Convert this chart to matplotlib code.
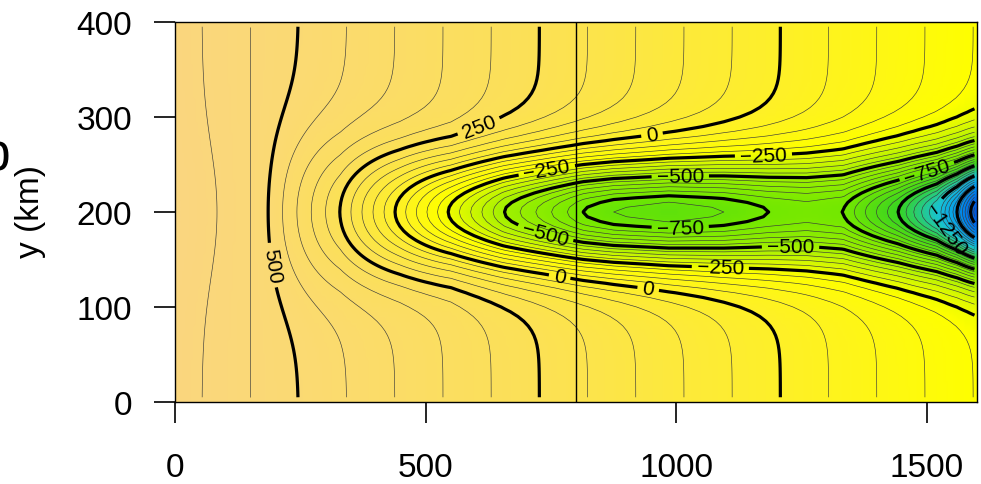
import numpy as np
import matplotlib
matplotlib.use("Agg")
import matplotlib.pyplot as plt
from matplotlib.colors import LinearSegmentedColormap, Normalize

plt.rcParams['font.family'] = ['Liberation Sans', 'DejaVu Sans']

# ---------------- data ----------------
# value along the jet axis (y = 200 km) at selected x positions (km)
x_nodes = [0, 84, 150, 186, 329, 439, 545, 657, 814, 875, 985, 1095,
           1184, 1260, 1333, 1443, 1520, 1560, 1587, 1600]
centre_vals = [650, 600, 550, 500, 250, 0, -250, -500, -750, -800, -830, -800,
               -750, -725, -750, -1000, -1250, -1500, -1750, -1850]
# e-folding half-width of the trough across y (km)
width_x = [0, 200, 330, 450, 550, 1600]
width_km = [65, 63, 52, 45, 41, 41]
# value at the southern / northern walls (linear in x)
edge_left, edge_right = 628, -204
jet_y = 200

x = np.arange(5, 1600, 5)
y = np.arange(5, 400, 5)
edge = edge_left + (edge_right - edge_left) * x / 1600.0
C = np.interp(x, x_nodes, centre_vals)
S = np.interp(x, width_x, width_km)
A = C - edge
Z = edge[None, :] + A[None, :] * np.exp(-((y[:, None] - jet_y) ** 2) / (2 * S[None, :] ** 2))
X, Y = np.meshgrid(x, y)

thick_levels = list(range(-1750, 501, 250))
thin_levels = [l for l in range(-1900, 701, 50) if l % 250 != 0]

label_pos = [(206, 145), (609, 286), (952, 280), (742, 243), (1174, 259),
             (739, 177), (1008, 238), (1008, 182), (1228, 163), (1088, 142),
             (768, 134), (944, 119), (1497, 249), (1547, 187)]

# ---------------- colours ----------------
anchors = [(-1850, (0, 80, 220)), (-1500, (0, 150, 240)), (-1250, (25, 195, 210)),
           (-1000, (55, 212, 35)), (-750, (115, 232, 0)), (-500, (160, 240, 0)),
           (-350, (208, 247, 0)), (-200, (255, 255, 0)), (0, (254, 240, 40)),
           (250, (252, 225, 85)), (500, (251, 218, 115)), (650, (250, 214, 128))]
vmin, vmax = anchors[0][0], anchors[-1][0]
cmap = LinearSegmentedColormap.from_list(
    "pal", [((v - vmin) / (vmax - vmin), tuple(c / 255 for c in col)) for v, col in anchors])
norm = Normalize(vmin, vmax)

# ---------------- figure ----------------
fig = plt.figure(figsize=(9.81, 4.85), dpi=100)
ax = fig.add_axes([175 / 981, 82 / 485, 802 / 981, 380 / 485])
ax.imshow(Z, extent=(0, 1600, 0, 400), origin='lower', cmap=cmap, norm=norm,
          aspect='auto', interpolation='bilinear')
ax.contour(X, Y, Z, levels=thin_levels, colors='#3a3a3a', linewidths=0.45,
           linestyles='solid')
cs = ax.contour(X, Y, Z, levels=thick_levels, colors='black', linewidths=2.3,
                linestyles='solid')


def fmt(v):
    return f"{v:.0f}".replace('-', '\u2212')


ax.clabel(cs, manual=label_pos, fmt=fmt, fontsize=15, inline=True, inline_spacing=5)
ax.axvline(800, color='black', lw=1)

ax.set_xlim(0, 1600)
ax.set_ylim(0, 400)
ax.set_xticks([0, 500, 1000, 1500])
ax.set_yticks([0, 100, 200, 300, 400])
ax.tick_params(axis='both', length=15, width=1.2, labelsize=24)
ax.tick_params(axis='y', pad=16)
ax.tick_params(axis='x', pad=21)
for sp in ax.spines.values():
    sp.set_linewidth(1.0)

fig.text(31 / 981, 1 - 211 / 485, 'y (km)', rotation=90, ha='center', va='center', fontsize=24)
fig.text(10 / 981, 1 - 170 / 485, 'b', ha='right', va='baseline', fontsize=37)

fig.savefig('out.png', dpi=100)
